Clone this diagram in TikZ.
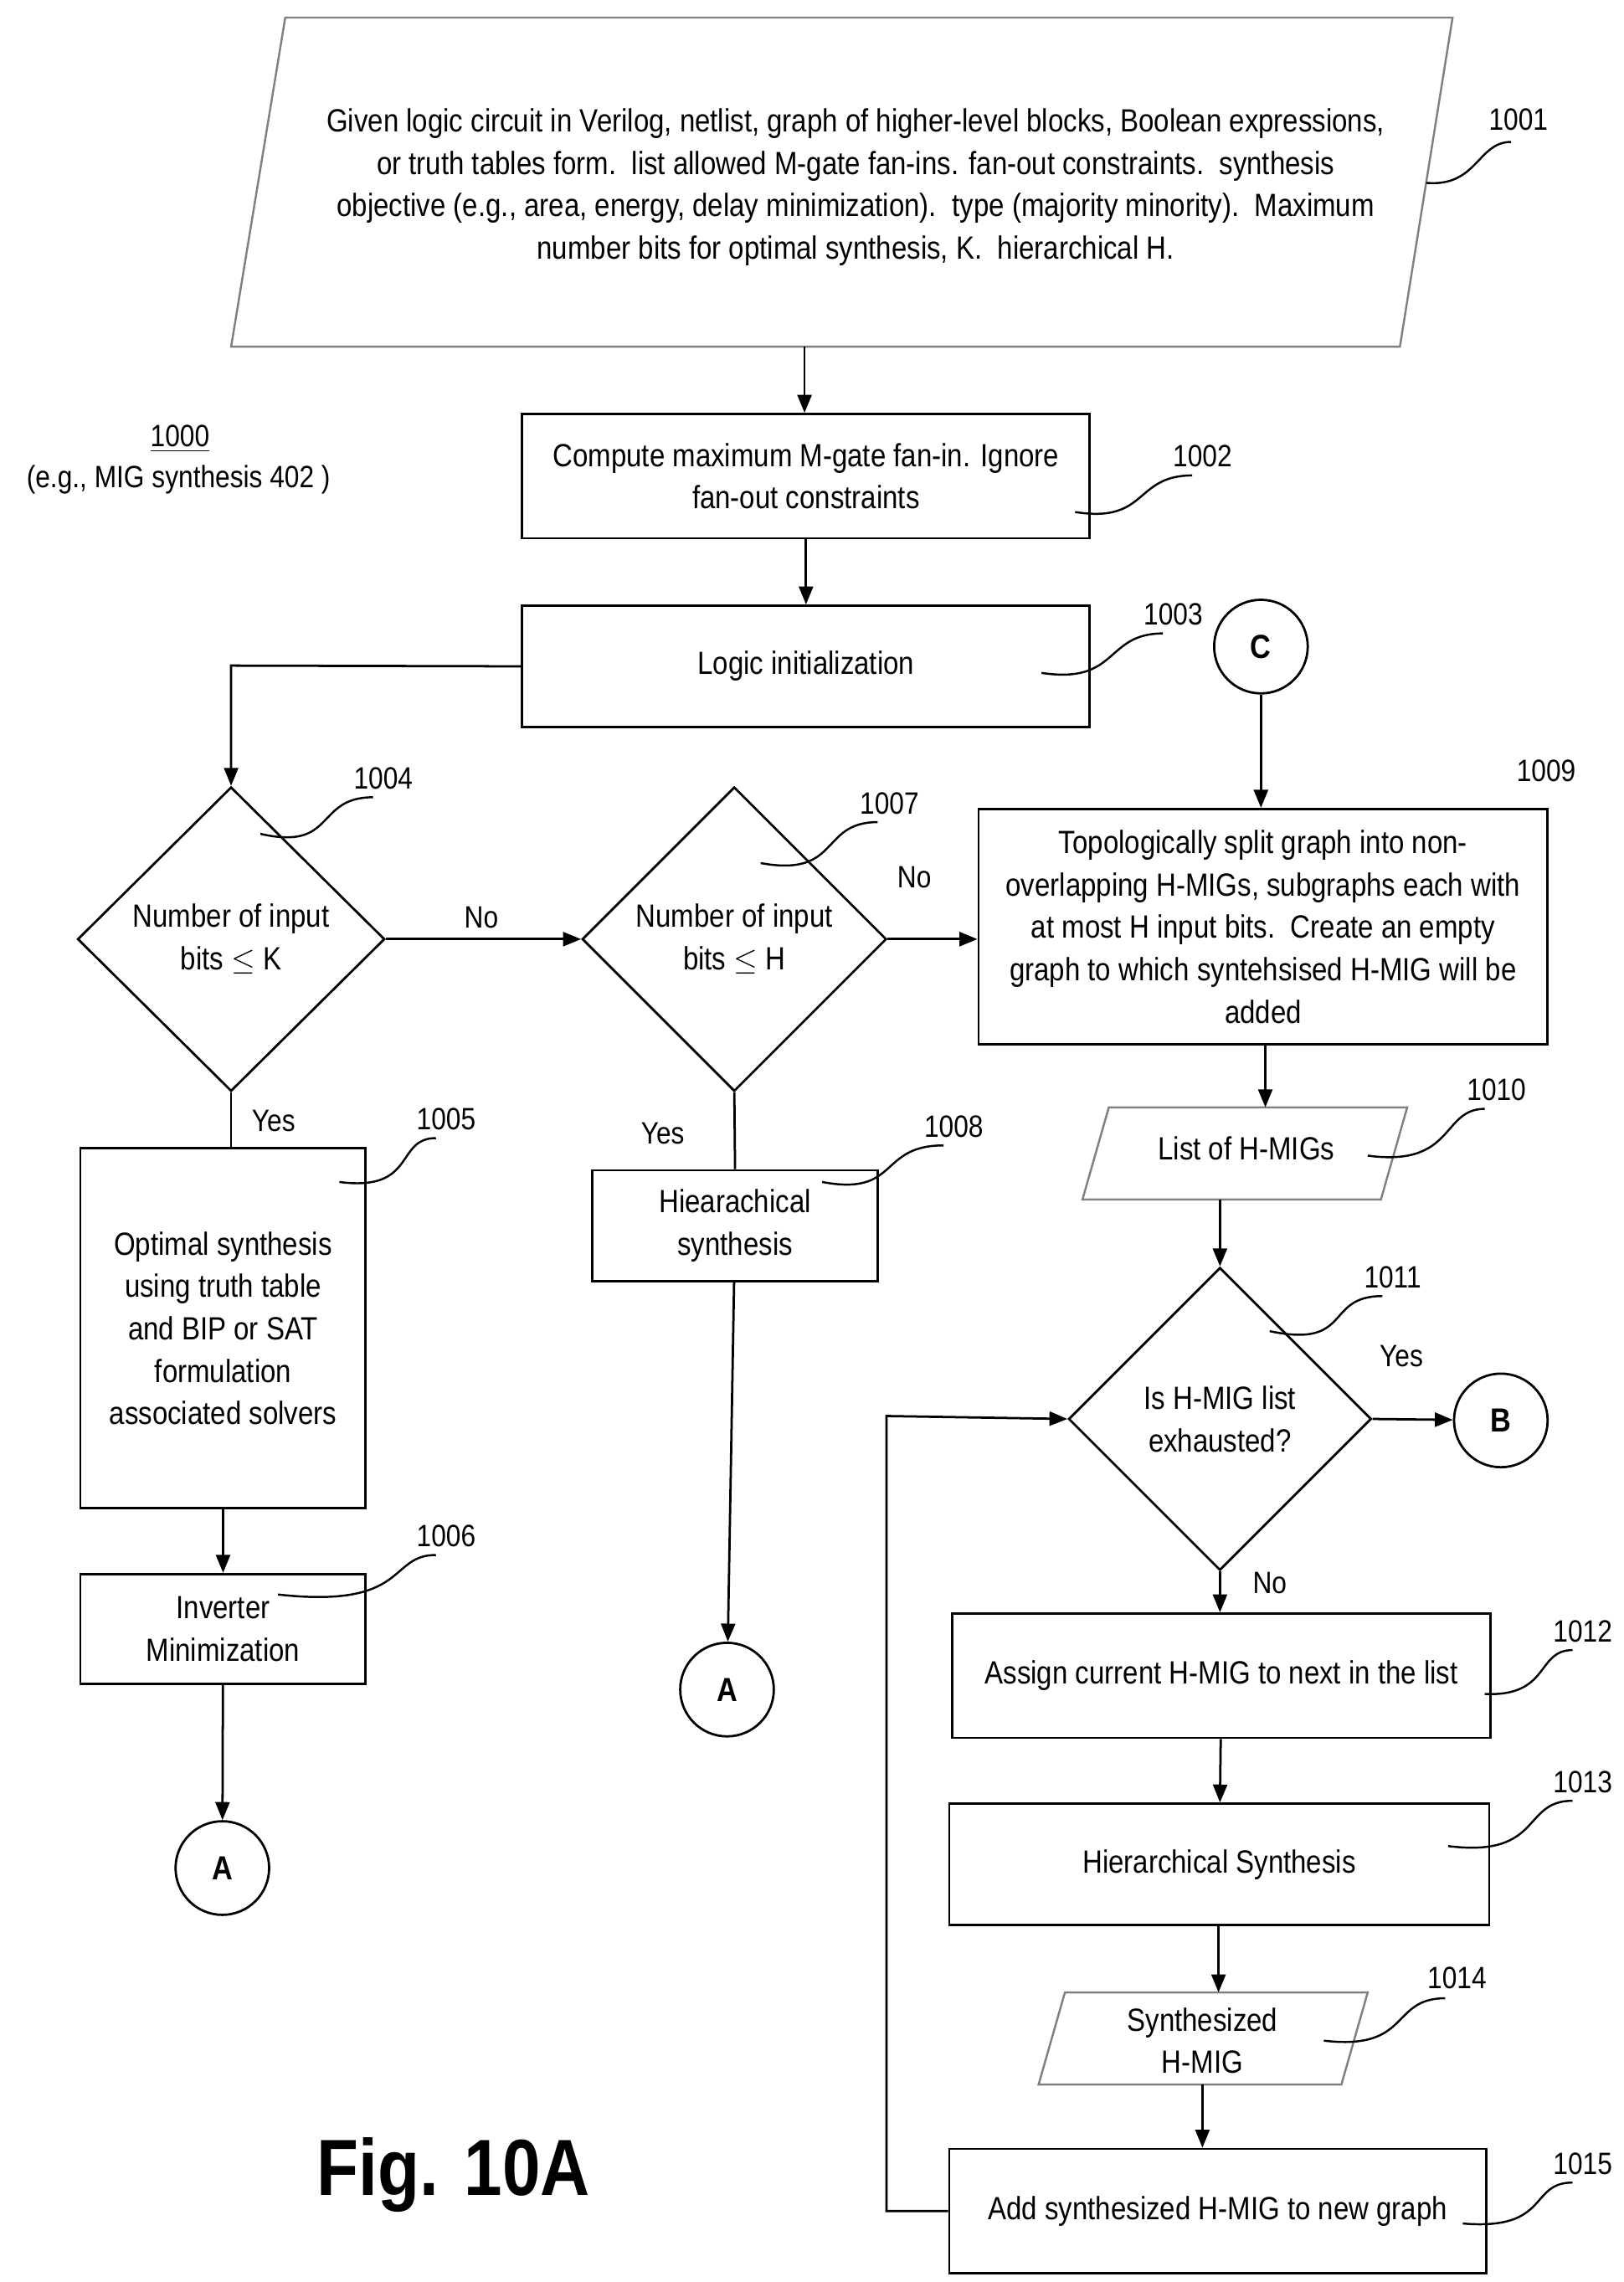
\documentclass[tikz,border=0pt]{standalone}
\usepackage{fontspec}
\setmainfont{Liberation Sans}[FakeStretch=0.86]
\usetikzlibrary{shapes.geometric,arrows.meta,calc}
\begin{document}
\begin{tikzpicture}[x=0.02cm,y=-0.02cm,
  every node/.style={font=\fontsize{12.5}{16.5}\selectfont, align=center},
  box/.style={draw, line width=0.9pt, inner sep=0},
  dia/.style={draw, diamond, shape aspect=1, line width=0.9pt, inner sep=0},
  circ/.style={draw, circle, line width=0.9pt, minimum size=1.28cm, inner sep=0, font=\fontsize{13}{15}\selectfont\bfseries},
  arr/.style={line width=0.9pt, -{Triangle[length=7pt,width=5.5pt]}},
  ln/.style={line width=0.9pt},
  sq/.style={line width=0.8pt},
  lbl/.style={font=\fontsize{12}{14}\selectfont}]
\useasboundingbox (0,0) rectangle (1110,1560);
% 1001
\draw[gray, line width=0.8pt] (195,12) -- (993,12) -- (957,237) -- (158,237) -- cycle;
\node (n1001) at (585,128) {Given logic circuit in Verilog, netlist, graph of higher-level blocks, Boolean expressions,\\ or truth tables form.\ \ list allowed M-gate fan-ins. fan-out constraints.\ \ synthesis\\ objective (e.g., area, energy, delay minimization).\ \ type (majority minority).\ \ Maximum\\ number bits for optimal synthesis, K.\ \ hierarchical H.};
\coordinate (p1001b) at (550,237);
\node[lbl] (l1001) at (1038,82) {1001};
\coordinate (s1001) at (975,125); \coordinate (e1001) at (1033,97);
\draw[sq] (s1001) .. controls (1010,128) and (1010,97) .. (e1001);
% 1000
\node[lbl] (l1000) at (123,300) {\underline{1000}};
\node[lbl] (l1000b) at (122,328) {(e.g., MIG synthesis 402 )};
% 1002
\node[box, minimum width=388*0.02cm, minimum height=85*0.02cm] (n1002) at (551,325.5) {Compute maximum M-gate fan-in. Ignore\\ fan-out constraints};
\node[lbl] (l1002) at (822,312) {1002};
\coordinate (s1002) at (735,350); \coordinate (e1002) at (815,325);
\draw[sq] (s1002) .. controls (785,358) and (775,325) .. (e1002);
% 1003
\node[box, minimum width=388*0.02cm, minimum height=83*0.02cm] (n1003) at (551,455.5) {Logic initialization};
\node[lbl] (l1003) at (802,420) {1003};
\coordinate (s1003) at (712,460); \coordinate (e1003) at (795,433);
\draw[sq] (s1003) .. controls (765,468) and (755,433) .. (e1003);
\node[circ] (C) at (862,442) {C};
% 1004
\node[dia, minimum width=210*0.02cm, minimum height=208*0.02cm] (n1004) at (158,642) {Number of input\\ bits $\le$ K};
\node[lbl] (l1004) at (262,532) {1004};
\coordinate (s1004) at (178,570); \coordinate (e1004) at (255,545);
\draw[sq] (s1004) .. controls (230,582) and (215,545) .. (e1004);
% 1007
\node[dia, minimum width=208*0.02cm, minimum height=208*0.02cm] (n1007) at (502,642) {Number of input\\ bits $\le$ H};
\node[lbl] (l1007) at (608,549) {1007};
\coordinate (s1007) at (520,590); \coordinate (e1007) at (600,562);
\draw[sq] (s1007) .. controls (575,600) and (560,562) .. (e1007);
% 1009
\node[box, minimum width=389*0.02cm, minimum height=161*0.02cm] (n1009) at (863.5,633.5) {Topologically split graph into non-\\ overlapping H-MIGs, subgraphs each with\\ at most H input bits.\ \ Create an empty\\ graph to which syntehsised H-MIG will be\\ added};
\node[lbl] (l1009) at (1057,527) {1009};
\node[lbl] (no1) at (329,627) {No};
\node[lbl] (no2) at (625,600) {No};
% 1005
\node[box, minimum width=195*0.02cm, minimum height=246*0.02cm] (n1005) at (152.5,908) {Optimal synthesis\\ using truth table\\ and BIP or SAT\\ formulation\\ associated solvers};
\node[lbl] (y1) at (187,766) {Yes};
\node[lbl] (l1005) at (305,765) {1005};
\coordinate (s1005) at (232,808); \coordinate (e1005) at (298,778);
\draw[sq] (s1005) .. controls (285,815) and (270,778) .. (e1005);
% 1006
\node[box, minimum width=195*0.02cm, minimum height=75*0.02cm] (n1006) at (152.5,1113.5) {Inverter\\ Minimization};
\node[lbl] (l1006) at (305,1050) {1006};
\coordinate (s1006) at (190,1090); \coordinate (e1006) at (298,1063);
\draw[sq] (s1006) .. controls (280,1100) and (265,1063) .. (e1006);
\node[circ] (A1) at (152,1277) {A};
% 1008
\node[box, minimum width=195*0.02cm, minimum height=76*0.02cm] (n1008) at (502.5,838) {Hiearachical\\ synthesis};
\node[lbl] (y2) at (453,775) {Yes};
\node[lbl] (l1008) at (652,770) {1008};
\coordinate (s1008) at (562,808); \coordinate (e1008) at (645,783);
\draw[sq] (s1008) .. controls (615,818) and (600,783) .. (e1008);
\node[circ] (A2) at (497,1155) {A};
% 1010
\draw[gray, line width=0.8pt] (758,757) -- (962,757) -- (944,820) -- (740,820) -- cycle;
\node (n1010) at (852,785) {List of H-MIGs};
\coordinate (p1010t) at (865,757); \coordinate (p1010b) at (834,820);
\node[lbl] (l1010) at (1023,745) {1010};
\coordinate (s1010) at (935,790); \coordinate (e1010) at (1015,758);
\draw[sq] (s1010) .. controls (995,798) and (985,758) .. (e1010);
% 1011
\node[dia, minimum width=207*0.02cm, minimum height=207*0.02cm] (n1011) at (834,970) {Is H-MIG list\\ exhausted?};
\node[lbl] (l1011) at (952,873) {1011};
\coordinate (s1011) at (868,910); \coordinate (e1011) at (945,886);
\draw[sq] (s1011) .. controls (925,922) and (905,886) .. (e1011);
\node[lbl] (y3) at (958,927) {Yes};
\node[circ] (B) at (1026,971) {B};
\node[lbl] (no3) at (868,1082) {No};
% 1012
\node[box, minimum width=368*0.02cm, minimum height=85*0.02cm] (n1012) at (835,1145.5) {Assign current H-MIG to next in the list};
\node[lbl] (l1012) at (1082,1115) {1012};
\coordinate (s1012) at (1015,1158); \coordinate (e1012) at (1075,1128);
\draw[sq] (s1012) .. controls (1060,1160) and (1050,1128) .. (e1012);
% 1013
\node[box, minimum width=369*0.02cm, minimum height=83*0.02cm] (n1013) at (833.5,1274.5) {Hierarchical Synthesis};
\node[lbl] (l1013) at (1082,1218) {1013};
\coordinate (s1013) at (990,1262); \coordinate (e1013) at (1075,1231);
\draw[sq] (s1013) .. controls (1055,1270) and (1040,1231) .. (e1013);
% 1014
\draw[gray, line width=0.8pt] (728,1362) -- (935,1362) -- (917,1425) -- (710,1425) -- cycle;
\node (n1014) at (822,1395) {Synthesized\\ H-MIG};
\coordinate (p1014t) at (833,1362); \coordinate (p1014b) at (822,1425);
\node[lbl] (l1014) at (996,1352) {1014};
\coordinate (s1014) at (905,1395); \coordinate (e1014) at (988,1366);
\draw[sq] (s1014) .. controls (965,1402) and (950,1366) .. (e1014);
% 1015
\node[box, minimum width=367*0.02cm, minimum height=85*0.02cm] (n1015) at (832.5,1511.5) {Add synthesized H-MIG to new graph};
\node[lbl] (l1015) at (1082,1479) {1015};
\coordinate (s1015) at (1000,1520); \coordinate (e1015) at (1075,1492);
\draw[sq] (s1015) .. controls (1060,1525) and (1045,1492) .. (e1015);
\node[font=\fontsize{31}{36}\selectfont\bfseries] (fig) at (310,1487) {Fig. 10A};
% connectors
\draw[arr] (p1001b) -- (n1002.north -| p1001b);
\draw[arr] (n1002) -- (n1003);
\draw[arr] (n1003.west) -- (158,455) -- (n1004.north);
\draw[arr] (n1004.east) -- (n1007.west);
\draw[arr] (n1007.east) -- (n1009.west |- n1007.east);
\draw[arr] (C) -- (n1009.north -| C);
\draw[ln] (n1004.south) -- (n1005.north -| n1004.south);
\draw[arr] (n1005) -- (n1006);
\draw[arr] (n1006) -- (A1);
\draw[ln] (n1007.south) -- (n1008.north);
\draw[arr] (n1008) -- (A2);
\draw[arr] (n1009.south -| p1010t) -- (p1010t);
\draw[arr] (p1010b) -- (n1011.north);
\draw[arr] (n1011.east) -- (B);
\draw[arr] (n1011.south) -- (n1012.north -| n1011.south);
\draw[arr] (n1012) -- (n1013);
\draw[arr] (n1013.south -| p1014t) -- (p1014t);
\draw[arr] (p1014b) -- (n1015.north -| p1014b);
\draw[arr] (n1015.west) -- (606,1511.5) -- (606,968) -- (n1011.west);
\end{tikzpicture}
\end{document}
